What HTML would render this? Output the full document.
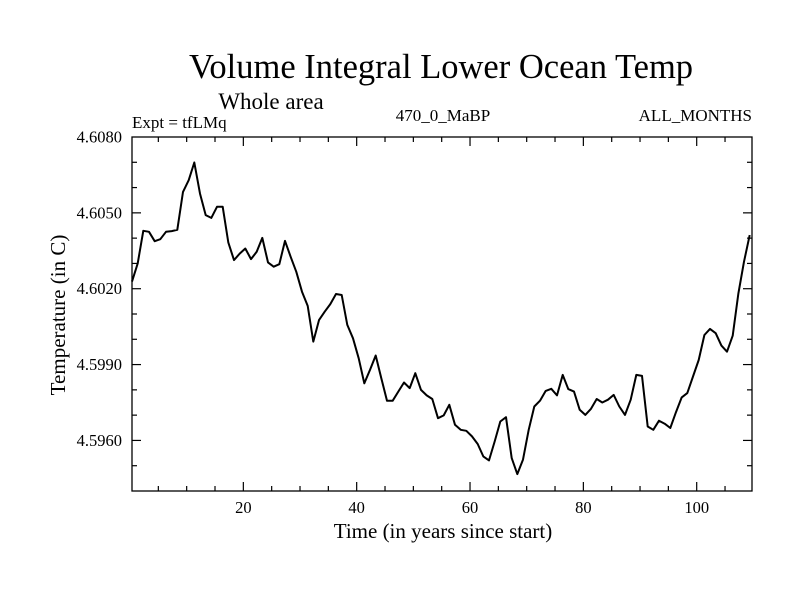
<!DOCTYPE html>
<html><head><meta charset="utf-8"><style>
body{margin:0;background:#fff}
svg{display:block}
text{font-family:"Liberation Serif",serif;fill:#000}
</style></head><body>
<svg id="chart" width="800" height="600">
<rect width="800" height="600" fill="#fff"/>
<text x="441" y="78" font-size="34.5" text-anchor="middle">Volume Integral Lower Ocean Temp</text>
<text x="271" y="109" font-size="23" text-anchor="middle">Whole area</text>
<text x="132" y="128" font-size="17">Expt = tfLMq</text>
<text x="443" y="121" font-size="17" text-anchor="middle">470_0_MaBP</text>
<text x="752" y="121" font-size="17" text-anchor="end">ALL_MONTHS</text>
<text x="443" y="538" font-size="21" text-anchor="middle">Time (in years since start)</text>
<text transform="translate(65,315) rotate(-90)" font-size="21" text-anchor="middle">Temperature (in C)</text>
<g id="axes"></g>
<path id="series" fill="none" stroke="#000" stroke-width="2" stroke-linejoin="round"/>
<rect x="132" y="137" width="620" height="354" fill="none" stroke="#000" stroke-width="1.3"/>
</svg>
<script>
const years = [];
for (let i = 0; i < 110; i++) years.push(0.35 + i);
const temps = [4.60228,4.6030,4.60429,4.60425,4.60388,4.60396,4.60425,4.60428,4.60433,4.60583,
4.60629,4.60699,4.60576,4.60491,4.60480,4.60524,4.60524,4.60383,4.60313,4.60339,
4.60359,4.60317,4.60346,4.60401,4.60304,4.60287,4.60297,4.60389,4.60326,4.60267,
4.60188,4.60132,4.59991,4.60076,4.60109,4.60139,4.60179,4.60175,4.60057,4.60004,
4.59925,4.59826,4.59879,4.59936,4.59846,4.59757,4.59757,4.59793,4.59829,4.59807,
4.59866,4.59800,4.59778,4.59764,4.59688,4.59699,4.59741,4.59662,4.59642,4.59638,
4.59616,4.59586,4.59537,4.59521,4.59596,4.59675,4.59692,4.59530,4.59467,4.59524,
4.59642,4.59734,4.59757,4.59796,4.59804,4.59778,4.59859,4.59803,4.59793,4.59721,
4.59701,4.59725,4.59764,4.59750,4.59761,4.59780,4.59734,4.59701,4.59761,4.59859,
4.59855,4.59655,4.59642,4.59678,4.59666,4.59649,4.59712,4.59770,4.59787,4.59853,
4.59918,4.60017,4.60041,4.60024,4.59975,4.59951,4.60014,4.60182,4.60307,4.60412];
const xTickLabels = [20, 40, 60, 80, 100];
const yTickLabels = ["4.5960", "4.5990", "4.6020", "4.6050", "4.6080"];

const X0 = 130, XS = 5.667;
const YTOP = 137, YBOT = 491, YMIN = 4.5940, YMAX = 4.6080;
const xs = v => X0 + v * XS;
const ys = v => YBOT - (v - YMIN) / (YMAX - YMIN) * (YBOT - YTOP);
const NS = "http://www.w3.org/2000/svg";
const axes = document.getElementById('axes');

function line(x1, y1, x2, y2) {
  const l = document.createElementNS(NS, 'line');
  l.setAttribute('x1', x1); l.setAttribute('y1', y1);
  l.setAttribute('x2', x2); l.setAttribute('y2', y2);
  l.setAttribute('stroke', '#000'); l.setAttribute('stroke-width', '1.2');
  axes.appendChild(l);
  return l;
}
for (let t = 5; t <= 105; t += 5) {
  const major = t % 20 === 0;
  const len = major ? 9 : 5;
  const x = xs(t);
  const a = line(x, YBOT, x, YBOT - len);
  
  
  const b = line(x, YTOP, x, YTOP + len);
  
  
}
xTickLabels.forEach(t => {
  const tx = document.createElementNS(NS, 'text');
  tx.setAttribute('x', xs(t)); tx.setAttribute('y', 513);
  tx.setAttribute('font-size', '16.5'); tx.setAttribute('text-anchor', 'middle');
  tx.textContent = t;
  
  
  axes.appendChild(tx);
});
for (let k = 1; k < 14; k++) {
  const v = YMIN + k * 0.001;
  const major = k % 3 === 2;
  const len = major ? 9 : 5;
  const y = ys(v);
  const a = line(132, y, 132 + len, y);
  
  
  const b = line(752, y, 752 - len, y);
  
  
}
yTickLabels.forEach(s => {
  const tx = document.createElementNS(NS, 'text');
  tx.setAttribute('x', 122); tx.setAttribute('y', ys(parseFloat(s)) + 5.5);
  tx.setAttribute('font-size', '16.5'); tx.setAttribute('text-anchor', 'end');
  tx.textContent = s;
  
  
  axes.appendChild(tx);
});
let d = '';
temps.forEach((v, i) => { d += (i ? 'L' : 'M') + xs(years[i]).toFixed(1) + ',' + ys(v).toFixed(1); });
document.getElementById('series').setAttribute('d', d);
</script>
</body></html>
